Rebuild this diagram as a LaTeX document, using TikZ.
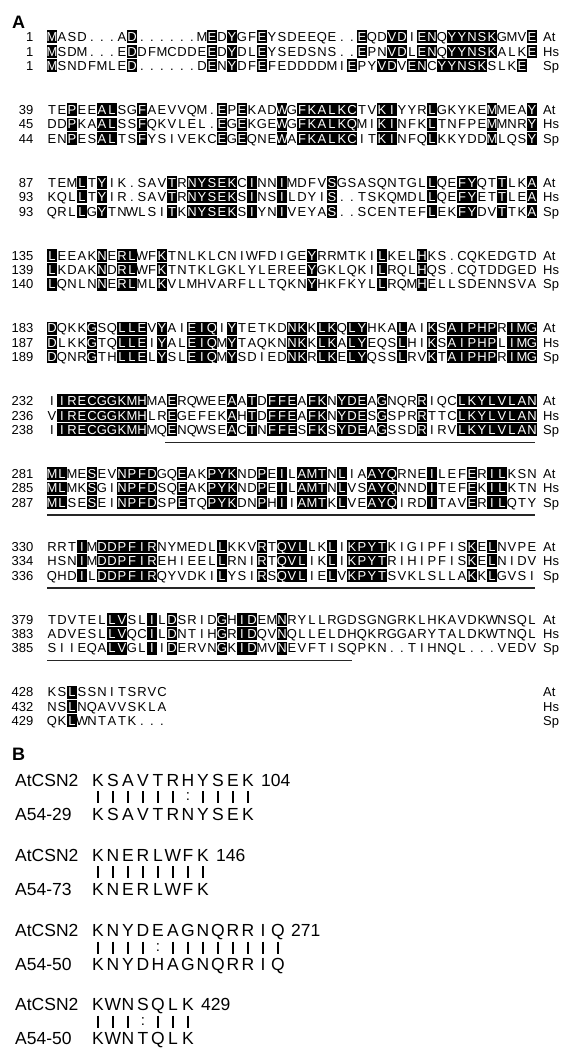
\documentclass[tikz,border=0pt]{standalone}
\usepackage{fontspec}
\setmainfont{Liberation Sans}
\newcount\colnum
\newcommand\seqfont{\fontsize{13}{15}\selectfont}
\newcommand\bfnt{\fontsize{17.5}{20}\selectfont}
\tikzset{
  res/.style={anchor=base,inner sep=0pt,font=\seqfont},
  hires/.style={res,text=white},
  hibox/.style={fill=black},
  numlab/.style={anchor=base east,inner sep=0pt,font=\seqfont},
  splab/.style={anchor=base west,inner sep=0pt,font=\seqfont},
  panlab/.style={anchor=base west,inner sep=0pt,font=\bfseries\fontsize{18}{20}\selectfont},
  uline/.style={draw=black!85,line width=1.4pt},
  blab/.style={anchor=base west,inner sep=0pt,font=\bfnt},
  bres/.style={anchor=base,inner sep=0pt,font=\bfnt},
  bnum/.style={anchor=base west,inner sep=0pt,font=\bfnt},
  barln/.style={draw=black,line width=1.2pt},
  colmk/.style={anchor=center,inner sep=0pt,font=\fontsize{15}{15}\selectfont},
}
% ---- alignment rows: uppercase = shaded, lowercase = plain
\newcommand\seqres[1]{%
  \pgfmathsetmacro\cx{52+(\the\colnum-1)*10}%
  \ifnum`#1=`.\relax
    \node[res] at (\cx,\rowy+4.65) {.};%
  \else\ifnum`#1<`a\relax
    \path[hibox] (\cx-5,\rowy-6.6) rectangle (\cx+5,\rowy+6.4);%
    \node[hires] at (\cx,\rowy+4.65) {#1};%
  \else
    \node[res] at (\cx,\rowy+4.65) {\uppercase{#1}};%
  \fi\fi}
\def\seqloop#1{\ifx#1\relax\else\advance\colnum by 1 \seqres{#1}\expandafter\seqloop\fi}
\newcommand\SeqLine[4]{%
  \node[numlab] at (33.5,#1+4.65) {#2};%
  \node[splab] at (543,#1+4.65) {#4};%
  \def\rowy{#1}\colnum=0 \seqloop#3\relax}
\newcommand\Blk[7]{%
  \pgfmathsetmacro\byA{37+(#1-1)*72.8}%
  \pgfmathsetmacro\byB{\byA+14.4}%
  \pgfmathsetmacro\byC{\byA+28.8}%
  \SeqLine{\byA}{#2}{#3}{At}%
  \SeqLine{\byB}{#4}{#5}{Hs}%
  \SeqLine{\byC}{#6}{#7}{Sp}}
% ---- panel B
\newcommand\bres[1]{%
  \pgfmathsetmacro\cx{98+(\the\colnum-1)*15}%
  \node[bres] at (\cx,\rowy+6.3) {#1};}
\def\bloop#1{\ifx#1\relax\else\advance\colnum by 1 \bres{#1}\expandafter\bloop\fi}
\newcommand\BSeq[2]{\def\rowy{#1}\colnum=0 \bloop#2\relax}
\newcommand\bmark[1]{%
  \pgfmathsetmacro\cx{98+(\the\colnum-1)*15}%
  \if#1b\relax
    \draw[barln] (\cx,\rowy-6) -- (\cx,\rowy+6);%
  \else
    \node[colmk] at (\cx,\rowy) {:};%
  \fi}
\def\mloop#1{\ifx#1\relax\else\advance\colnum by 1 \bmark{#1}\expandafter\mloop\fi}
\newcommand\BMarks[2]{\def\rowy{#1}\colnum=0 \mloop#2\relax}
\newcommand\BPair[7]{%
  \pgfmathsetmacro\pyA{#1}%
  \pgfmathsetmacro\pyM{#1+17}%
  \pgfmathsetmacro\pyB{#1+34}%
  \node[blab] at (15,\pyA+6.3) {#2};%
  \BSeq{\pyA}{#3}%
  \node[bnum] at (\cx+13,\pyA+6.3) {#4};%
  \BMarks{\pyM}{#5}%
  \node[blab] at (15,\pyB+6.3) {#6};%
  \BSeq{\pyB}{#7}}
\begin{document}
\begin{tikzpicture}[x=1pt,y=-1pt]
\useasboundingbox[fill=white] (0,0) rectangle (569,1049);
\node[panlab] (labA) at (12,28.5) {A};
\Blk{1}{1}{Masd...aD......mEdYgfEysdeeqe..EqdVDiENqYYNSKgmvE}{1}{Msdm...eDdfmcddeEdYdlEysedsns..EpnVDlENqYYNSKalkE}{1}{MsndfmleD......dEnYdfEfeddddmiEpyVDvENcYYNSKslkE}
\Blk{2}{39}{tePeeALsgFaevvqm.EpEkadWgFKALKCtvKIyyrLgkykeMmeaY}{45}{ddPkaALssFqkvlel.EgEkgeWgFKALKQmiKInfkLtnfpeMmnrY}{44}{enPesALtsFysivekcEgEqneWaFKALKCitKInfqLkkyddMlqsY}
\Blk{3}{87}{temLtYik.savTrNYSEKcInnImdfvSgsasqntglLqeFYqtTlkA}{93}{kqlLtYir.savTrNYSEKsInsIldyiS..tskqmdlLqeFYetTleA}{93}{qrlLgYtnwlsiTkNYSEKsIynIveyaS..scentefLekFYdvTtkA}
\Blk{4}{135}{LeeakNeRLwfKtnlklcniwfdigeYrrmtkiLkelHks.cqkedgtd}{139}{LkdakNdRLwfKtntklgklylereeYgklqkiLrqlHqs.cqtddged}{140}{LqnlnNeRLmlKvlmhvarflltqknYhkfkylLrqmHellsdennsva}
\Blk{5}{183}{DqkkGsqLLEvYaiEIQiYtetkdNKkLKqLYhkaLaiKsAIPHPrIMG}{187}{DlkkGtqLLEiYalEIQmYtaqknNKkLKaLYeqsLhiKsAIPHPlIMG}{189}{DqnrGthLLElYslEIQmYsdiedNKrLKeLYqssLrvKtAIPHPrIMG}
\Blk{6}{232}{iIRECGGKMHmaErqweeAaTdFFEaFKnYDEaGnqrRiqcLKYLVLAN}{236}{vIRECGGKMHlrEgefekAhTdFFEaFKnYDEsGsprRttcLKYLVLAN}{238}{iIRECGGKMHmqEnqwseAcTnFFEsFKsYDEaGssdRirvLKYLVLAN}
\Blk{7}{281}{MLmeSevNPFDgqEakPYKndPeIlAMTnLiaAYQrneIlefErILksn}{285}{MLmkSgiNPFDsqEakPYKndPeIlAMTnLvsAYQnndItefEkILktn}{287}{MLseSeiNPFDspEtqPYKdnPhIiAMTkLveAYQirdItavErILqty}
\Blk{8}{330}{rrtImDDPFIRnymedlLkkvRtQVLlkLiKPYTkigipfisKeLnvpe}{334}{hsnImDDPFIRehieelLrniRtQVLikLiKPYTrihipfisKeLnidv}{336}{qhdIlDDPFIRqyvdkiLysiRsQVLieLvKPYTsvklsllaKkLgvsi}
\Blk{9}{379}{tdvtelLVslIlDsridGhIDemNryllrgdsgngrklhkavdkwnsql}{383}{adveslLVqcIlDntihGrIDqvNqlleldhqkrggarytaldkwtnql}{385}{siieqaLVglIiDervnGkIDmvNevftisqpkn..tihnql...vedv}
\Blk{10}{428}{ksLssnitsrvc}{432}{nsLnqavvskla}{429}{qkLwntatk...}
% underlines (domain)
\coordinate (u6a) at (165,442.3); \coordinate (u6b) at (535,442.3);
\coordinate (u7a) at (47,515.1);  \coordinate (u7b) at (535,515.1);
\coordinate (u8a) at (47,587.9);  \coordinate (u8b) at (535,587.9);
\coordinate (u9a) at (47,660.7);  \coordinate (u9b) at (352,660.7);
\draw[uline] (u6a) -- (u6b);
\draw[uline] (u7a) -- (u7b);
\draw[uline] (u8a) -- (u8b);
\draw[uline] (u9a) -- (u9b);
% panel B
\node[panlab] (labB) at (12,760) {B};
\BPair{780}{AtCSN2}{KSAVTRHYSEK}{104}{bbbbbbcbbbb}{A54-29}{KSAVTRNYSEK}
\BPair{855}{AtCSN2}{KNERLWFK}{146}{bbbbbbbb}{A54-73}{KNERLWFK}
\BPair{930.5}{AtCSN2}{KNYDEAGNQRRIQ}{271}{bbbbcbbbbbbbb}{A54-50}{KNYDHAGNQRRIQ}
\BPair{1004.5}{AtCSN2}{KWNSQLK}{429}{bbbcbbb}{A54-50}{KWNTQLK}
\end{tikzpicture}
\end{document}
